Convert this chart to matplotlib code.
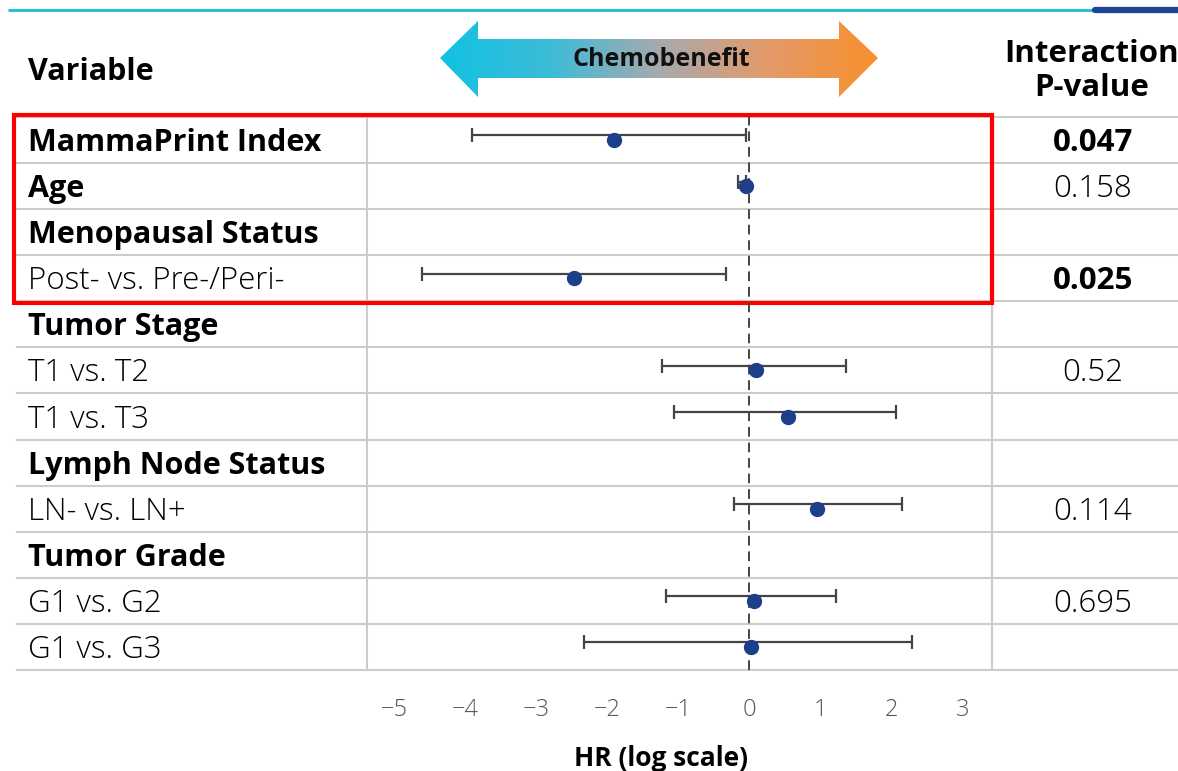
import matplotlib.pyplot as plt
import numpy as np
from matplotlib.path import Path
from matplotlib.patches import PathPatch, Rectangle
from matplotlib.colors import LinearSegmentedColormap

plt.rcParams['font.family'] = ['Open Sans', 'DejaVu Sans']

# table rows
labels = ["MammaPrint Index", "Age", "Menopausal Status", "Post- vs. Pre-/Peri-",
          "Tumor Stage", "T1 vs. T2", "T1 vs. T3", "Lymph Node Status",
          "LN- vs. LN+", "Tumor Grade", "G1 vs. G2", "G1 vs. G3"]
is_header = [True, True, True, False, True, False, False, True, False, True, False, False]
pvalues = ["0.047", "0.158", "", "0.025", "", "0.52", "", "", "0.114", "", "0.695", ""]
p_bold = [True, False, False, True, False, False, False, False, False, False, False, False]

# estimates (log HR) with CI, NaN where the row has no estimate
est = [-1.90, -0.04, np.nan, -2.46, np.nan, 0.10, 0.55, np.nan, 0.95, np.nan, 0.07, 0.02]
lo = [-3.90, -0.15, np.nan, -4.60, np.nan, -1.23, -1.06, np.nan, -0.21, np.nan, -1.17, -2.32]
hi = [-0.04, -0.04, np.nan, -0.33, np.nan, 1.37, 2.07, np.nan, 2.15, np.nan, 1.22, 2.30]
xticks = [-5, -4, -3, -2, -1, 0, 1, 2, 3]

W, H = 1178, 771
fig = plt.figure(figsize=(W / 100, H / 100), dpi=100)

# background layer in pixel coordinates for the table
bg = fig.add_axes([0, 0, 1, 1])
bg.set_xlim(0, W)
bg.set_ylim(H, 0)
bg.axis('off')

top, row_h = 117, 46.08
n = len(labels)
grid_c = '#cccccc'
for i in range(n + 1):
    y = top + i * row_h
    bg.plot([17, W], [y, y], color=grid_c, lw=1.5, zorder=1)
bg.plot([367, 367], [top, top + n * row_h], color=grid_c, lw=1.5, zorder=1)
bg.plot([992, 992], [top, top + n * row_h], color=grid_c, lw=1.5, zorder=1)

# top decorative line
bg.plot([8, 1095], [10, 10], color='#18bcd6', lw=2, solid_capstyle='butt')
bg.plot([1095, W], [10, 10], color='#1f4591', lw=4.5, solid_capstyle='round')

for i in range(n):
    yc = top + (i + 0.5) * row_h + 3
    bg.text(28, yc, labels[i], va='center', ha='left',
            fontsize=22 if is_header[i] else 22.5,
            fontweight='bold' if is_header[i] else 300, color='black')
    if pvalues[i]:
        bg.text(1093, yc, pvalues[i], va='center', ha='center', fontsize=22.5,
                fontweight='bold' if p_bold[i] else 300, color='black')

# headers
bg.text(28, 72, "Variable", va='center', ha='left', fontsize=22, fontweight='bold')
bg.text(1092, 71, "Interaction\nP-value", va='center', ha='center', fontsize=22.5,
        fontweight='bold', linespacing=1.2)

# red highlight box
bg.add_patch(Rectangle((14, 115), 978, 188, fill=False, edgecolor='#ff0000', lw=3, zorder=5))

# gradient double arrow
verts = [(440, 58), (478, 21), (478, 39), (839, 39), (839, 21), (878, 58),
         (839, 97), (839, 78), (478, 78), (478, 97), (440, 58)]
codes = [Path.MOVETO] + [Path.LINETO] * (len(verts) - 2) + [Path.CLOSEPOLY]
arrow = PathPatch(Path(verts, codes), facecolor='none', edgecolor='none')
bg.add_patch(arrow)
cmap = LinearSegmentedColormap.from_list('chemo', ['#12c1e3', '#3cbcd8', '#a6aaae', '#e49a6a', '#f8902c'])
grad = np.linspace(0, 1, 256).reshape(1, -1)
im = bg.imshow(grad, cmap=cmap, extent=(440, 878, 97, 21), aspect='auto', zorder=2)
im.set_clip_path(arrow)
bg.set_xlim(0, W)
bg.set_ylim(H, 0)
bg.text(661, 60, "Chemobenefit", ha='center', va='center', fontsize=18,
        fontweight='bold', color='#111111', zorder=3)

bg.text(661, 758, "HR (log scale)", ha='center', va='center', fontsize=19,
        fontweight='bold')

# forest plot
ax = fig.add_axes([367 / W, 1 - (top + n * row_h) / H, (992 - 367) / W, n * row_h / H])
ax.patch.set_alpha(0)
ys = np.arange(n)
est_a, lo_a, hi_a = np.array(est), np.array(lo), np.array(hi)
ok = ~np.isnan(est_a)
ax.errorbar(est_a[ok], ys[ok] - 0.1, xerr=[est_a[ok] - lo_a[ok], hi_a[ok] - est_a[ok]],
            fmt='none', ecolor='#444444', elinewidth=1.6, capsize=5, capthick=1.6, zorder=3)
ax.plot(est_a[ok], ys[ok], 'o', color='#1d3f8a', markersize=10, zorder=4)
ax.axvline(0, color='#444444', lw=1.4, ls=(0, (5, 3)), zorder=2)
ax.set_xlim(-5.38, 3.42)
ax.set_ylim(n - 0.5, -0.5)
ax.set_xticks(xticks)
ax.set_xticklabels([str(t).replace('-', '\u2212') for t in xticks])
ax.tick_params(axis='x', length=0, pad=20, labelsize=17, labelcolor='#555555')
for lab in ax.get_xticklabels():
    lab.set_fontweight(300)
ax.set_yticks([])
for s in ax.spines.values():
    s.set_visible(False)

fig.savefig('out.png', dpi=100)
